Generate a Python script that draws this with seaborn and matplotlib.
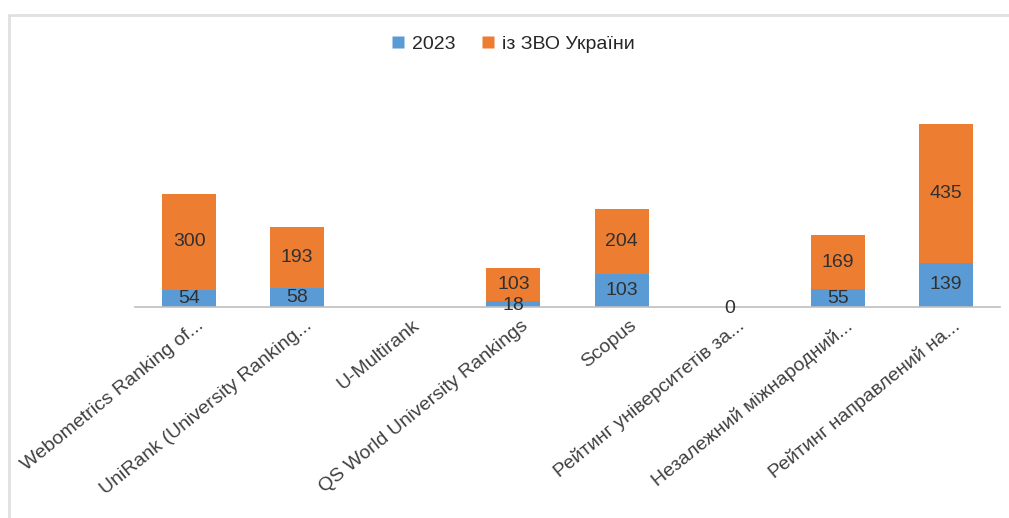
import numpy as np
import pandas as pd
import matplotlib
matplotlib.use('Agg')
import matplotlib.pyplot as plt
import seaborn as sns
from matplotlib.lines import Line2D
from matplotlib.transforms import offset_copy

categories = ['Webometrics Ranking of...', 'UniRank (University Ranking...',
              'U-Multirank', 'QS World University Rankings', 'Scopus',
              'Рейтинг університетів за...', 'Незалежний міжнародний...',
              'Рейтинг направлений на...']
vals_2023 = [54, 58, np.nan, 18, 103, 0, 55, 139]
vals_ua = [300, 193, np.nan, 103, 204, np.nan, 169, 435]
series_names = ['2023', 'із ЗВО України']

blue = '#5B9BD5'
orange = '#ED7D31'

sns.set_style('white')
plt.rcParams['font.family'] = ['Liberation Sans', 'DejaVu Sans']

df = pd.DataFrame({'cat': categories, 'a': vals_2023, 'b': vals_ua})
df['total'] = df['a'].fillna(0) + df['b'].fillna(0)

fig = plt.figure(figsize=(10.09, 5.18), dpi=100)
ax = fig.add_axes([135 / 1009, 211 / 518, 865 / 1009, 270 / 518])

# stacked: draw totals first, then bottom series on top
sns.barplot(data=df, x='cat', y='total', color=orange, width=0.5,
            saturation=1, ax=ax, edgecolor='none')
sns.barplot(data=df, x='cat', y='a', color=blue, width=0.5,
            saturation=1, ax=ax, edgecolor='none')

for i in range(len(categories)):
    a = df['a'][i]
    b = df['b'][i]
    if not np.isnan(a):
        y = a / 2 if a > 40 else a / 2 - 4
        ax.text(i, y, f'{int(a)}', ha='center', va='center', fontsize=14,
                color='#303030')
    if not np.isnan(b):
        base = 0 if np.isnan(a) else a
        ax.text(i, base + b / 2, f'{int(b)}', ha='center', va='center',
                fontsize=14, color='#303030')

ax.set_ylim(0, 845)
ax.set_xlim(-0.5, len(categories) - 0.5)
ax.set_xlabel('')
ax.set_ylabel('')
ax.set_yticks([])
ax.set_xticks(range(len(categories)))
ax.set_xticklabels(categories, rotation=39, ha='right', va='center',
                   rotation_mode='anchor', fontsize=14, color='#404040')
ax.tick_params(axis='x', length=0, pad=12)
for lbl in ax.get_xticklabels():
    lbl.set_transform(offset_copy(lbl.get_transform(), fig=fig, x=9, y=0, units='points'))
for s in ['top', 'right', 'left']:
    ax.spines[s].set_visible(False)
ax.spines['bottom'].set_color('#bfbfbf')
ax.spines['bottom'].set_linewidth(1.2)

handles = [Line2D([], [], marker='s', color='none', markerfacecolor=blue,
                  markeredgecolor='none', markersize=9),
           Line2D([], [], marker='s', color='none', markerfacecolor=orange,
                  markeredgecolor='none', markersize=9)]
fig.legend(handles, series_names, loc='center', bbox_to_anchor=(0.508, 1 - 44 / 518),
           ncols=2, frameon=False, fontsize=14, handlelength=0.8,
           handletextpad=0.3, columnspacing=1.3)

# outer frame lines (left and top)
fig.add_artist(Line2D([9 / 1009, 9 / 1009], [0, 1 - 15 / 518],
                      transform=fig.transFigure, color='#e0e0e0', lw=2))
fig.add_artist(Line2D([9 / 1009, 1], [1 - 15 / 518, 1 - 15 / 518],
                      transform=fig.transFigure, color='#e0e0e0', lw=2))

fig.savefig('out.png', dpi=100)
